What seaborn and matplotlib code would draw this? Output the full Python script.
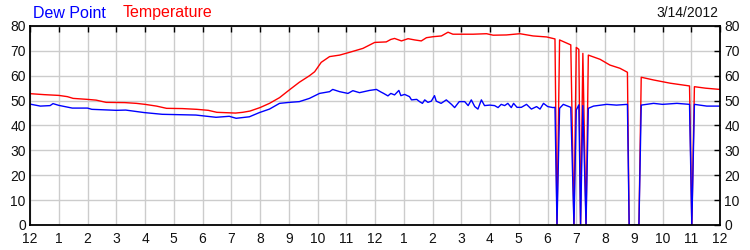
import matplotlib
matplotlib.use("Agg")
import matplotlib.pyplot as plt
import seaborn as sns
import pandas as pd

# ---- data (hours since midnight) ----
temp_hours = [0.0, 0.5, 1.0, 1.3, 1.5, 2.0, 2.3, 2.65, 3.3, 3.7, 4.0, 4.4, 4.75, 5.3, 5.8,
              6.2, 6.5, 7.15, 7.4, 7.65, 8.0, 8.33, 8.68, 9.02, 9.37, 9.72, 9.9, 10.13,
              10.42, 10.77, 11.11, 11.58, 11.99, 12.39, 12.55, 12.68, 12.92, 13.15, 13.38,
              13.61, 13.79, 14.02, 14.31, 14.54, 14.71, 15.41, 15.88, 16.11, 16.57, 17.04,
              17.5, 17.97, 18.26, 18.33, 18.42, 18.81, 18.92, 19.0, 19.09, 19.15, 19.23,
              19.34, 19.42, 19.83, 20.17, 20.52, 20.78, 20.84, 21.18, 21.26, 21.69, 22.27,
              22.94, 23.02, 23.11, 23.5, 24.0]
temp_values = [52.8, 52.4, 52.1, 51.6, 50.9, 50.5, 50.2, 49.3, 49.2, 48.9, 48.5, 47.8, 46.9,
               46.8, 46.5, 46.1, 45.3, 45.0, 45.3, 45.8, 47.2, 48.9, 51.2, 54.3, 57.4, 60.0,
               61.6, 65.4, 67.7, 68.3, 69.4, 71.0, 73.4, 73.6, 74.6, 75.0, 74.0, 74.9, 74.4,
               74.0, 75.3, 75.7, 76.0, 77.5, 76.7, 76.7, 76.9, 76.3, 76.4, 76.9, 76.0, 75.6,
               74.8, 0.0, 74.4, 72.4, 0.0, 71.4, 70.6, 0.0, 69.0, 0.0, 68.3, 66.6, 64.3,
               63.0, 61.4, 0.0, 0.0, 59.4, 58.3, 57.0, 55.9, 0.0, 55.6, 55.0, 54.5]

dew_hours = [0.0, 0.36, 0.7, 0.8, 1.0, 1.47, 2.0, 2.15, 3.0, 3.33, 3.97, 4.6, 5.77, 6.47,
             6.93, 7.17, 7.63, 7.98, 8.33, 8.68, 9.02, 9.37, 9.72, 10.07, 10.42, 10.53,
             10.77, 11.06, 11.23, 11.46, 11.81, 12.05, 12.2, 12.3, 12.45, 12.55, 12.68,
             12.83, 12.9, 13.03, 13.2, 13.27, 13.45, 13.55, 13.65, 13.73, 13.84, 13.96,
             14.07, 14.13, 14.3, 14.48, 14.66, 14.77, 14.93, 15.12, 15.24, 15.35, 15.47,
             15.58, 15.7, 15.81, 15.99, 16.16, 16.28, 16.39, 16.51, 16.62, 16.74, 16.82,
             16.94, 17.09, 17.27, 17.44, 17.62, 17.74, 17.86, 18.01, 18.19, 18.26, 18.33,
             18.42, 18.55, 18.81, 18.92, 19.0, 19.09, 19.15, 19.23, 19.34, 19.42, 19.6,
             20.06, 20.4, 20.78, 20.84, 21.18, 21.26, 21.69, 22.0, 22.5, 22.94, 23.02,
             23.11, 23.54, 24.0]
dew_values = [48.6, 47.8, 48.0, 48.8, 48.1, 47.0, 47.0, 46.5, 46.1, 46.2, 45.2, 44.5, 44.2,
              43.3, 43.7, 42.9, 43.5, 45.2, 46.6, 48.9, 49.3, 49.6, 50.9, 52.9, 53.6, 54.5,
              53.6, 52.9, 54.0, 53.2, 54.1, 54.5, 53.5, 52.9, 51.9, 52.9, 52.3, 54.1, 52.0,
              52.5, 51.6, 50.3, 50.5, 49.6, 48.9, 50.3, 49.3, 49.8, 52.0, 49.8, 48.9, 50.3,
              48.5, 47.2, 49.6, 49.6, 48.0, 50.3, 47.6, 46.6, 50.3, 48.0, 48.2, 48.0, 47.2,
              48.5, 48.0, 48.9, 47.2, 48.9, 47.3, 47.3, 48.5, 46.6, 47.6, 46.6, 48.9, 47.6,
              47.2, 47.3, 0.0, 46.9, 48.5, 47.3, 0.0, 46.2, 48.3, 0.0, 48.0, 0.0, 46.9,
              47.8, 48.5, 48.2, 48.5, 0.0, 0.0, 48.2, 48.9, 48.5, 48.9, 48.5, 0.0, 48.5,
              47.8, 47.8]

hour_labels = ["12", "1", "2", "3", "4", "5", "6", "7", "8", "9", "10", "11",
               "12", "1", "2", "3", "4", "5", "6", "7", "8", "9", "10", "11", "12"]
y_ticks = [0, 10, 20, 30, 40, 50, 60, 70, 80]
series_names = ["Dew Point", "Temperature"]
date_label = "3/14/2012"

sns.set_theme(style="white")
plt.rcParams["font.family"] = ["Liberation Sans", "DejaVu Sans"]

temp_df = pd.DataFrame({"hour": temp_hours, "value": temp_values})
dew_df = pd.DataFrame({"hour": dew_hours, "value": dew_values})

fig = plt.figure(figsize=(7.5, 2.5), dpi=100)
ax = fig.add_axes([30 / 750, 25 / 250, 690 / 750, 199 / 250])

sns.lineplot(data=temp_df, x="hour", y="value", sort=False, estimator=None,
             color="#ff0000", linewidth=1.0, ax=ax)
sns.lineplot(data=dew_df, x="hour", y="value", sort=False, estimator=None,
             color="#0000ff", linewidth=1.0, ax=ax)

ax.set_xlim(0, 24)
ax.set_ylim(0, 80)
ax.set_xticks(range(25))
ax.set_xticklabels(hour_labels)
ax.set_yticks(y_ticks)
ax.set_xlabel("")
ax.set_ylabel("")
ax.grid(True, color="#cccccc", linewidth=1.0)
ax.set_axisbelow(True)
for s in ax.spines.values():
    s.set_color("black")
    s.set_linewidth(1.3)
ax.tick_params(axis="both", which="both", direction="in", length=4, width=1,
               color="black", top=True, right=True, labelright=True,
               labelsize=10, labelcolor="#111111", pad=3)
ax.tick_params(axis="x", pad=5)

fig.text(33 / 750, 1 - 13 / 250, series_names[0], color="#0000ff", fontsize=11.5,
         ha="left", va="center")
fig.text(123 / 750, 1 - 13 / 250, series_names[1], color="#ff0000", fontsize=11.5,
         ha="left", va="center")
fig.text(718 / 750, 1 - 13 / 250, date_label, color="#111111", fontsize=10,
         ha="right", va="center")

fig.savefig("out.png", dpi=100)
